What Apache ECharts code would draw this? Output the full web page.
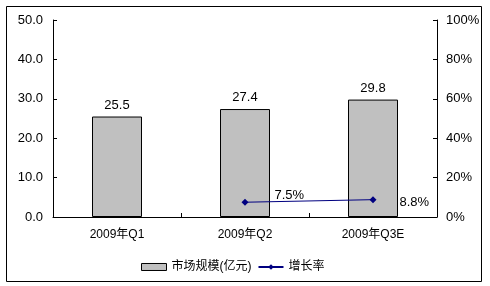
<!DOCTYPE html>
<html><head><meta charset="utf-8">
<script src="https://cdn.jsdelivr.net/npm/echarts@6/dist/echarts.min.js"></script>
<style>html,body{margin:0;padding:0;background:#fff}#c{width:490px;height:286px}</style>
</head><body><div id="c"></div>
<script>
const categories = ['2009年Q1', '2009年Q2', '2009年Q3E'];
const marketSize = [25.5, 27.4, 29.8];
const growthRate = [null, 7.5, 8.8];
const leftTicks = ['0.0', '10.0', '20.0', '30.0', '40.0', '50.0'];
const rightTicks = ['0%', '20%', '40%', '60%', '80%', '100%'];

const FONT = '"Liberation Sans", Arial, "Noto Sans CJK SC", sans-serif';
const chart = echarts.init(document.getElementById('c'), null, {renderer: 'canvas'});
chart.setOption({
  animation: false,
  backgroundColor: '#fff',
  textStyle: {fontFamily: FONT},
  graphic: [{
    type: 'rect', shape: {x: 6.5, y: 6.5, width: 475, height: 275},
    style: {fill: 'none', stroke: '#000', lineWidth: 1}, silent: true, z: -1
  }],
  legend: {
    bottom: 8, left: 136,
    itemGap: 6,
    itemWidth: 25, itemHeight: 7,
    textStyle: {fontSize: 12, color: '#000', fontFamily: FONT},
    data: [
      {name: '市场规模(亿元)', icon: 'rect', itemStyle: {color: '#c0c0c0', borderColor: '#000', borderWidth: 1}},
      {name: '增长率', itemStyle: {color: '#000080'}}
    ]
  },
  grid: {left: 53, right: 53, top: 20, bottom: 69},
  xAxis: {
    type: 'category', data: categories,
    axisLine: {lineStyle: {color: '#000', width: 1}},
    axisTick: {show: true, inside: true, length: 4, alignWithLabel: false, lineStyle: {color: '#000'}},
    axisLabel: {color: '#000', fontSize: 12, margin: 12, fontFamily: FONT}
  },
  yAxis: [{
    type: 'value', min: 0, max: 50, interval: 10,
    axisLine: {show: true, lineStyle: {color: '#000'}},
    axisTick: {show: true, inside: true, length: 4, lineStyle: {color: '#000'}},
    splitLine: {show: false},
    axisLabel: {color: '#000', fontSize: 13, margin: 10, fontFamily: FONT,
      formatter: v => leftTicks[Math.round(v / 10)]}
  }, {
    type: 'value', min: 0, max: 100, interval: 20,
    axisLine: {show: true, lineStyle: {color: '#000'}},
    axisTick: {show: true, inside: true, length: 4, lineStyle: {color: '#000'}},
    splitLine: {show: false},
    axisLabel: {color: '#000', fontSize: 13, margin: 9, fontFamily: FONT,
      formatter: v => rightTicks[Math.round(v / 20)]}
  }],
  series: [{
    name: '市场规模(亿元)', type: 'bar', data: marketSize, barWidth: 50,
    itemStyle: {color: '#c0c0c0', borderColor: '#000', borderWidth: 1},
    label: {show: true, position: 'top', distance: 5, color: '#000', fontSize: 13, fontFamily: FONT,
      formatter: p => p.value.toFixed(1)}
  }, {
    name: '增长率', type: 'line', yAxisIndex: 1,
    data: growthRate.map((v, i) => v == null ? null : {
      value: v,
      label: i === 1 ? {offset: [0, -7]} : {offset: [-3, 3]}
    }),
    symbol: 'diamond', symbolSize: 7, showSymbol: true,
    lineStyle: {color: '#000080', width: 1},
    itemStyle: {color: '#000080'},
    label: {show: true, position: 'right', distance: 26, color: '#000', fontSize: 13, fontFamily: FONT,
      formatter: p => p.value.toFixed(1) + '%'}
  }]
});
</script></body></html>
